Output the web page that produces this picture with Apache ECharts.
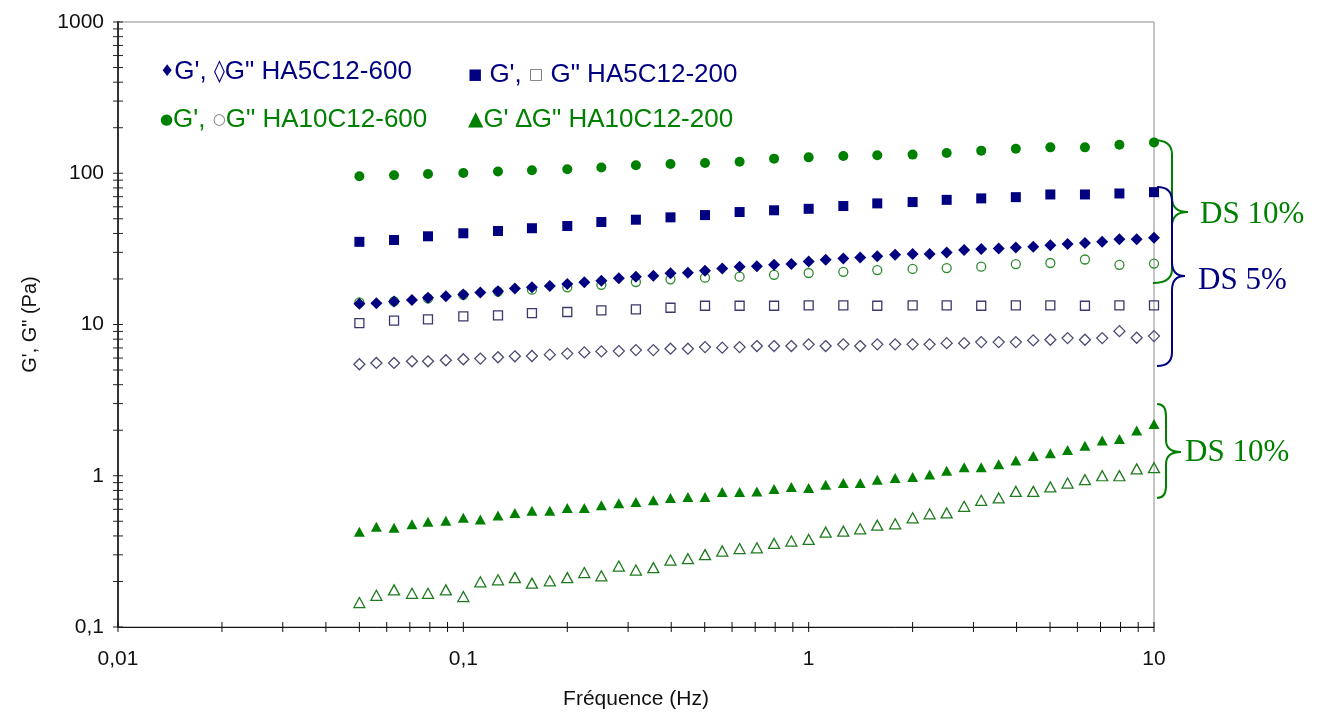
<!DOCTYPE html>
<html>
<head>
<meta charset="utf-8">
<script src="https://cdn.jsdelivr.net/npm/echarts@6/dist/echarts.min.js"></script>
<style>
html,body{margin:0;padding:0;background:#fff;}
#chart{width:1320px;height:716px;}
</style>
</head>
<body>
<div id="chart"></div>
<script>
// Frequencies (Hz)
var freq10 = [0.05, 0.063, 0.079, 0.1, 0.126, 0.158, 0.2, 0.251, 0.316, 0.398, 0.501, 0.631, 0.794, 1, 1.26, 1.58, 2, 2.51, 3.16, 3.98, 5.01, 6.31, 7.94, 10];
var freq20 = [0.05, 0.056, 0.063, 0.071, 0.079, 0.089, 0.1, 0.112, 0.126, 0.141, 0.158, 0.178, 0.2, 0.224, 0.251, 0.282, 0.316, 0.355, 0.398, 0.447, 0.501, 0.562, 0.631, 0.708, 0.794, 0.891, 1, 1.12, 1.26, 1.41, 1.58, 1.78, 2, 2.24, 2.51, 2.82, 3.16, 3.55, 3.98, 4.47, 5.01, 5.62, 6.31, 7.08, 7.94, 8.91, 10];

// HA10C12-600 (freq10)
var gp_HA10_600 = [95.6, 97.0, 98.9, 100.5, 102.6, 104.6, 106.2, 109.0, 112.9, 115.1, 116.9, 119.0, 124.9, 127.4, 130.0, 131.4, 132.8, 136.0, 141.1, 145.4, 148.3, 148.3, 154.5, 160];
var gpp_HA10_600 = [14.0, 14.2, 14.9, 15.7, 16.5, 17.0, 17.6, 18.3, 19.1, 19.9, 20.4, 20.7, 21.3, 21.9, 22.3, 22.9, 23.3, 23.6, 24.1, 25.1, 25.5, 26.9, 24.8, 25.3];
// HA5C12-200 (freq10)
var gp_HA5_200 = [35.2, 36.2, 38.3, 40.1, 41.5, 43.3, 44.8, 47.6, 49.3, 51.1, 52.9, 55.4, 56.9, 58.2, 60.7, 63.2, 64.5, 66.7, 68.2, 69.5, 72.4, 72.4, 73.5, 75.0];
var gpp_HA5_200 = [10.2, 10.6, 10.8, 11.3, 11.5, 11.9, 12.1, 12.4, 12.6, 12.9, 13.3, 13.3, 13.3, 13.4, 13.4, 13.3, 13.4, 13.4, 13.3, 13.4, 13.4, 13.3, 13.4, 13.4];
// HA5C12-600 (freq20)
var gp_HA5_600 = [13.7, 13.8, 14.2, 14.5, 15.0, 15.4, 15.8, 16.3, 16.6, 17.3, 17.6, 18.0, 18.5, 19.0, 19.5, 20.2, 20.7, 21.0, 21.8, 22.0, 22.7, 23.5, 24.1, 24.3, 24.8, 25.1, 26.1, 26.8, 27.3, 27.7, 28.3, 28.9, 29.2, 29.2, 29.9, 31.1, 31.6, 31.8, 32.3, 32.7, 33.4, 34.0, 34.6, 35.3, 36.6, 36.6, 37.4];
var gpp_HA5_600 = [5.46, 5.57, 5.57, 5.71, 5.71, 5.80, 5.89, 5.95, 6.07, 6.16, 6.19, 6.32, 6.42, 6.54, 6.64, 6.67, 6.77, 6.77, 6.92, 6.92, 7.09, 7.03, 7.09, 7.20, 7.20, 7.20, 7.39, 7.20, 7.39, 7.20, 7.39, 7.39, 7.39, 7.39, 7.53, 7.53, 7.65, 7.65, 7.65, 7.85, 7.93, 8.13, 7.93, 8.13, 9.04, 8.17, 8.38];
// HA10C12-200 (freq20)
var gp_HA10_200 = [0.426, 0.460, 0.453, 0.478, 0.496, 0.504, 0.527, 0.513, 0.546, 0.568, 0.586, 0.586, 0.613, 0.613, 0.638, 0.657, 0.671, 0.688, 0.713, 0.724, 0.724, 0.781, 0.781, 0.788, 0.818, 0.843, 0.830, 0.873, 0.895, 0.895, 0.941, 0.966, 0.980, 1.02, 1.08, 1.14, 1.14, 1.19, 1.26, 1.35, 1.41, 1.48, 1.58, 1.71, 1.75, 1.99, 2.20];
var gpp_HA10_200 = [0.145, 0.162, 0.176, 0.167, 0.167, 0.176, 0.159, 0.199, 0.205, 0.212, 0.195, 0.202, 0.212, 0.229, 0.218, 0.253, 0.238, 0.247, 0.277, 0.283, 0.301, 0.318, 0.330, 0.334, 0.357, 0.370, 0.379, 0.424, 0.430, 0.446, 0.471, 0.481, 0.527, 0.560, 0.568, 0.628, 0.688, 0.713, 0.788, 0.788, 0.843, 0.895, 0.941, 1.0, 1.0, 1.11, 1.13];

// Axis tick values
var xTickValues = [0.01,0.02,0.03,0.04,0.05,0.06,0.07,0.08,0.09,0.1,0.2,0.3,0.4,0.5,0.6,0.7,0.8,0.9,1,2,3,4,5,6,7,8,9,10];
var yTickValues = [0.1,0.2,0.3,0.4,0.5,0.6,0.7,0.8,0.9,1,2,3,4,5,6,7,8,9,10,20,30,40,50,60,70,80,90,100,200,300,400,500,600,700,800,900,1000];

var NAVY = '#000080', GREEN = '#008000';

function pairs(xs, ys){ return xs.map(function(x,i){ return [x, ys[i]]; }); }
function fmt(v){ return String(v).replace('.', ','); }

function scatter(name, xs, ys, symbol, size, filled, color, border){
  return {
    type: 'scatter', name: name, data: pairs(xs, ys), symbol: symbol, symbolSize: size,
    itemStyle: filled ? {color: color, opacity: 1} : {color: 'rgba(255,255,255,0)', borderColor: border || color, borderWidth: 1.3, opacity: 1},
    silent: true, z: 3
  };
}

// Curly brace built from line and quadratic curve elements
function brace(x0, x1, xp, top, mid, bot, r, color){
  var st = {stroke: color, lineWidth: 2, fill: null};
  return {
    type: 'group', silent: true,
    children: [
      {type: 'bezierCurve', shape: {x1: x0, y1: top, cpx1: x1, cpy1: top, x2: x1, y2: top + r}, style: st},
      {type: 'line', shape: {x1: x1, y1: top + r, x2: x1, y2: mid - r}, style: st},
      {type: 'bezierCurve', shape: {x1: x1, y1: mid - r, cpx1: x1, cpy1: mid, x2: xp, y2: mid}, style: st},
      {type: 'bezierCurve', shape: {x1: xp, y1: mid, cpx1: x1, cpy1: mid, x2: x1, y2: mid + r}, style: st},
      {type: 'line', shape: {x1: x1, y1: mid + r, x2: x1, y2: bot - r}, style: st},
      {type: 'bezierCurve', shape: {x1: x1, y1: bot - r, cpx1: x1, cpy1: bot, x2: x0, y2: bot}, style: st}
    ]
  };
}

var chart = echarts.init(document.getElementById('chart'), null, {renderer: 'canvas'});

var legendFont = '26px "Liberation Sans"';

var option = {
  animation: false,
  backgroundColor: '#fff',
  grid: {left: 118, right: 166, top: 22, bottom: 89, show: true, borderColor: '#8c8c8c', borderWidth: 1, backgroundColor: '#fff'},
  xAxis: {
    type: 'log', logBase: 10, min: 0.01, max: 10, splitNumber: 3,
    name: 'Fréquence (Hz)', nameLocation: 'middle', nameGap: 62,
    nameTextStyle: {fontFamily: 'Liberation Sans', fontSize: 21, color: '#111'},
    axisLine: {lineStyle: {color: '#111', width: 1}},
    axisTick: {show: false},
    splitLine: {show: false},
    axisLabel: {fontFamily: 'Liberation Sans', fontSize: 21, color: '#111', margin: 22, formatter: fmt}
  },
  yAxis: {
    type: 'log', logBase: 10, min: 0.1, max: 1000, splitNumber: 4,
    name: 'G\', G" (Pa)', nameLocation: 'middle', nameGap: 78,
    nameTextStyle: {fontFamily: 'Liberation Sans', fontSize: 20, color: '#111'},
    axisLine: {lineStyle: {color: '#333', width: 2}},
    axisTick: {show: false},
    splitLine: {show: false},
    axisLabel: {fontFamily: 'Liberation Sans', fontSize: 21, color: '#111', margin: 14, formatter: fmt}
  },
  series: [
    {
      type: 'custom', name: 'xticks', silent: true, clip: false, z: 5,
      data: xTickValues.map(function(v){ return [v, 0.1]; }),
      renderItem: function(params, api){
        var p = api.coord([api.value(0), api.value(1)]);
        return {type: 'line', shape: {x1: p[0], y1: p[1] - 5, x2: p[0], y2: p[1] + 5}, style: {stroke: '#111', lineWidth: 1}};
      }
    },
    {
      type: 'custom', name: 'yticks', silent: true, clip: false, z: 5,
      data: yTickValues.map(function(v){ return [0.01, v]; }),
      renderItem: function(params, api){
        var p = api.coord([api.value(0), api.value(1)]);
        return {type: 'line', shape: {x1: p[0] - 5, y1: p[1], x2: p[0] + 5, y2: p[1]}, style: {stroke: '#222', lineWidth: 1}};
      }
    },
    scatter('G\' HA10C12-600', freq10, gp_HA10_600, 'circle', 10, true, GREEN),
    scatter('G" HA10C12-600', freq10, gpp_HA10_600, 'circle', 9, false, '#2e8b2e'),
    scatter('G\' HA5C12-200', freq10, gp_HA5_200, 'rect', 10, true, NAVY),
    scatter('G" HA5C12-200', freq10, gpp_HA5_200, 'rect', 9, false, '#3a3a6e'),
    scatter('G\' HA5C12-600', freq20, gp_HA5_600, 'diamond', [12, 12], true, NAVY),
    scatter('G" HA5C12-600', freq20, gpp_HA5_600, 'diamond', [11, 11], false, '#4a4a70'),
    scatter('G\' HA10C12-200', freq20, gp_HA10_200, 'triangle', [11, 10], true, GREEN),
    scatter('G" HA10C12-200', freq20, gpp_HA10_200, 'triangle', [11, 10], false, '#1e7a1e')
  ],
  graphic: [
    {type: 'text', left: 160, top: 59, style: {text: '{s|♦}G\', {l|◊}G" HA5C12-600', fill: NAVY, font: legendFont, rich: {s: {fontSize: 16, fill: NAVY, fontFamily: 'DejaVu Sans'}, l: {fontSize: 22, fill: NAVY, fontFamily: 'DejaVu Sans'}}}},
    {type: 'text', left: 468, top: 62, style: {text: '{s|■} G\', {o|□} G" HA5C12-200', fill: NAVY, font: legendFont, rich: {s: {fontSize: 15, fill: NAVY, fontFamily: 'DejaVu Sans'}, o: {fontSize: 15, fill: '#666', fontFamily: 'DejaVu Sans'}}}},
    {type: 'text', left: 160, top: 107, style: {text: '{s|●}G\', {o|○}G" HA10C12-600', fill: GREEN, font: legendFont, rich: {s: {fontSize: 15, fill: GREEN, fontFamily: 'DejaVu Sans'}, o: {fontSize: 15, fill: '#777', fontFamily: 'DejaVu Sans'}}}},
    {type: 'text', left: 468, top: 107, style: {text: '{s|▲}G\' ∆G" HA10C12-200', fill: GREEN, font: legendFont, rich: {s: {fontSize: 20, fill: GREEN, fontFamily: 'DejaVu Sans'}}}},

    brace(1153, 1172, 1188, 140, 212, 283, 14, GREEN),
    brace(1157, 1172, 1185, 187, 276, 366, 14, NAVY),
    brace(1157, 1166, 1181, 404, 452, 498, 12, GREEN),
    {type: 'text', left: 1200, top: 199, style: {text: 'DS 10%', fill: GREEN, font: '31px "Liberation Serif"'}},
    {type: 'text', left: 1198, top: 265, style: {text: 'DS 5%', fill: NAVY, font: '31px "Liberation Serif"'}},
    {type: 'text', left: 1185, top: 437, style: {text: 'DS 10%', fill: GREEN, font: '31px "Liberation Serif"'}}
  ]
};
chart.setOption(option);
</script>
</body>
</html>
